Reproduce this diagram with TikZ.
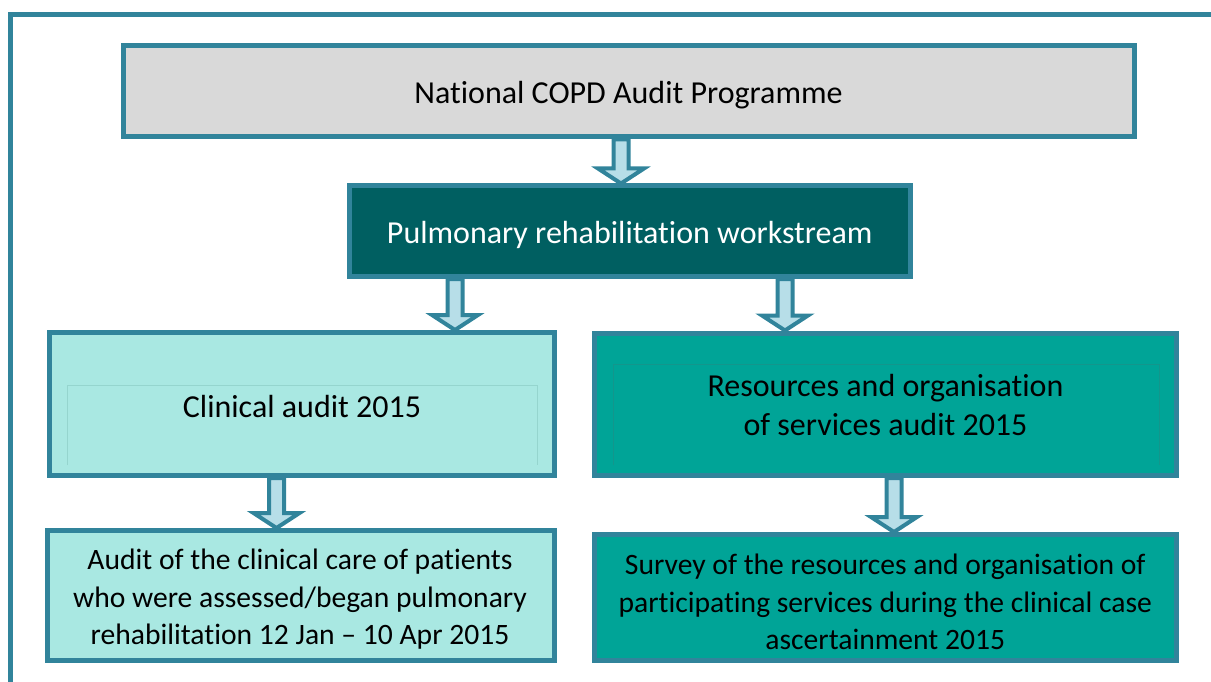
\documentclass[tikz,border=0pt]{standalone}
\usepackage{fontspec}
\setmainfont{Carlito}[RawFeature=-liga]
\usetikzlibrary{calc}
\definecolor{frameteal}{HTML}{31849B}
\definecolor{arrowfill}{HTML}{B7DEE8}
\definecolor{greyfill}{HTML}{D9D9D9}
\definecolor{darkfill}{HTML}{005F61}
\definecolor{lightfill}{HTML}{A9E8E2}
\definecolor{midfill}{HTML}{00A497}
\definecolor{lightinner}{HTML}{95D5CE}
\definecolor{midinner}{HTML}{13968C}
\tikzset{
  box/.style={draw=frameteal, line width=5pt, inner sep=0pt},
  bigtext/.style={inner sep=0pt, align=center, font=\fontsize{32}{38.5}\selectfont, text=black},
  smalltext/.style={inner sep=0pt, align=center, font=\fontsize{29.6}{37.5}\selectfont, text=black},
  barrow/.style={draw=frameteal, fill=arrowfill, line width=4pt, line join=miter},
  innerline/.style={line width=1pt}
}
\newcommand\blockarrow[3]{%
  \draw[barrow] let \p1=(#2.south), \p2=(#3.north) in
    ({(#1-7.5)*1pt},\y1) -- ({(#1-7.5)*1pt},{\y2+15pt}) -- ({(#1-23)*1pt},{\y2+15pt})
    -- ({#1*1pt},\y2) -- ({(#1+23)*1pt},{\y2+15pt}) -- ({(#1+7.5)*1pt},{\y2+15pt})
    -- ({(#1+7.5)*1pt},\y1) -- cycle;}
\begin{document}
\begin{tikzpicture}[x=1pt,y=-1pt]
\useasboundingbox (0,0) rectangle (1211,682);
\clip (0,0) rectangle (1211,682);
\draw[frameteal, line width=5pt] (10.5,14.5) rectangle (1300,800);
\node[box, fill=greyfill, minimum width=1011pt, minimum height=91pt] (prog) at (628.5,91.5) {};
\node[box, fill=darkfill, minimum width=561.5pt, minimum height=90.5pt] (work) at (629.75,231.25) {};
\node[box, fill=lightfill, minimum width=505pt, minimum height=143pt] (clin) at (302,404) {};
\node[box, fill=midfill, minimum width=582pt, minimum height=142.5pt] (reso) at (885.5,404.25) {};
\node[box, fill=lightfill, minimum width=507pt, minimum height=130pt] (clinsub) at (301,595.5) {};
\node[box, fill=midfill, minimum width=581.5pt, minimum height=126pt] (resosub) at (885.25,597.5) {};
\draw[innerline, lightinner] (67,465) -- (67,385) -- (537,385) -- (537,465);
\draw[innerline, midinner] (613,465) -- (613,364) -- (1159,364) -- (1159,465);
\node[bigtext] (progtext) at (628.5,95.5) {National COPD Audit Programme};
\node[bigtext, text=white] (worktext) at (629.75,234.5) {Pulmonary rehabilitation workstream};
\node[bigtext] (clintext) at (302,407) {Clinical audit 2015};
\node[bigtext] (resotext) at (885.5,405) {Resources and organisation\\of services audit 2015};
\node[smalltext] (clinsubtext) at (300,599.5) {Audit of the clinical care of patients\\who were assessed/began pulmonary\\rehabilitation 12 Jan -- 10 Apr 2015};
\node[smalltext] (resosubtext) at (885.25,602) {Survey of the resources and organisation of\\participating services during the clinical case\\ascertainment 2015};
\blockarrow{621}{prog}{work}
\blockarrow{455}{work}{clin}
\blockarrow{785}{work}{reso}
\blockarrow{276.5}{clin}{clinsub}
\blockarrow{894}{reso}{resosub}
\end{tikzpicture}
\end{document}
